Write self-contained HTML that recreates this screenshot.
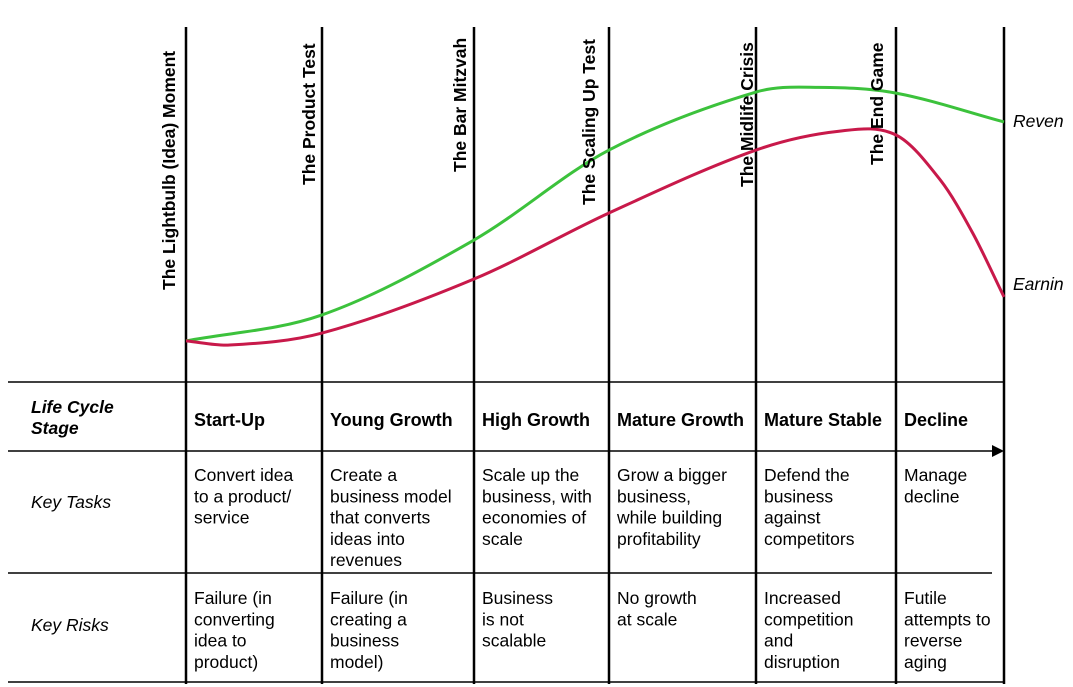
<!DOCTYPE html>
<html><head><meta charset="utf-8"><style>
html,body{margin:0;padding:0;background:#fff;}
svg{display:block;font-family:"Liberation Sans",sans-serif;}
.v{font-weight:bold;font-size:17.5px;}
.h{font-weight:bold;font-size:18px;}
.c{font-size:17.5px;}
.r{font-style:italic;font-size:17.5px;}
</style></head><body>
<svg id="chart" width="1073" height="687" viewBox="0 0 1073 687">
<g id="grid"></g>
<g id="curves"></g>
<g id="labels"></g>
<polygon points="992,445 1004,451 992,457" fill="#000"/>
</svg>
<script>
const milestones = ["The Lightbulb (Idea) Moment","The Product Test","The Bar Mitzvah","The Scaling Up Test","The Midlife Crisis","The End Game"];
const stages = ["Start-Up","Young Growth","High Growth","Mature Growth","Mature Stable","Decline"];
const revenueT = [0,1,2,3,4,4.45,5,6];
const revenueV = [3.5,13.5,42.3,76.9,99.2,101,98.8,87.7];
const earningsT = [0,0.32,1,2,3,4,4.6,5,5.41,5.71,6];
const earningsV = [3.5,1.9,6.5,27.3,52.7,76.9,84.2,82.7,65.4,45,20.4];
const tasks = [["Convert idea","to a product/","service"],["Create a","business model","that converts","ideas into","revenues"],["Scale up the","business, with","economies of","scale"],["Grow a bigger","business,","while building","profitability"],["Defend the","business","against","competitors"],["Manage","decline"]];
const risks = [["Failure (in","converting","idea to","product)"],["Failure (in","creating a","business","model)"],["Business","is not","scalable"],["No growth","at scale"],["Increased","competition","and","disruption"],["Futile","attempts to","reverse","aging"]];

const NS="http://www.w3.org/2000/svg";
const bx=[186,322,474,609,756,896,1004];
function xs(t){const i=Math.min(Math.floor(t),5);return bx[i]+(t-i)*(bx[i+1]-bx[i]);}
function ys(v){return 350-v*2.6;}
function mk(tag,attrs,parent){const e=document.createElementNS(NS,tag);for(const k in attrs)e.setAttribute(k,attrs[k]);parent.appendChild(e);return e;}
const grid=document.getElementById('grid'),curves=document.getElementById('curves'),labels=document.getElementById('labels');
bx.forEach((x,i)=>{const l=mk('line',{x1:x,y1:27,x2:x,y2:684,stroke:'#000','stroke-width':2.5},grid);

});
[[8,382,1004],[8,451,992],[8,573,992],[8,682,1004]].forEach(h=>{const l=mk('line',{x1:h[0],y1:h[1],x2:h[2],y2:h[1],stroke:'#000','stroke-width':1.5},grid);

});
function path(T,V){const p=T.map((t,i)=>[xs(t),ys(V[i])]);const n=p.length;
const m=p.map((q,i)=>{if(i===0)return (p[1][1]-p[0][1])/(p[1][0]-p[0][0]);if(i===n-1)return (p[n-1][1]-p[n-2][1])/(p[n-1][0]-p[n-2][0]);return (p[i+1][1]-p[i-1][1])/(p[i+1][0]-p[i-1][0]);});
let d='M'+p[0][0]+','+p[0][1];
for(let i=0;i<n-1;i++){const dx=(p[i+1][0]-p[i][0])/3;
d+=' C'+(p[i][0]+dx)+','+(p[i][1]+m[i]*dx)+' '+(p[i+1][0]-dx)+','+(p[i+1][1]-m[i+1]*dx)+' '+p[i+1][0]+','+p[i+1][1];}return d;}
const rev=mk('path',{d:path(revenueT,revenueV),fill:'none',stroke:'#3cc23c','stroke-width':3},curves);


const ear=mk('path',{d:path(earningsT,earningsV),fill:'none',stroke:'#c8194a','stroke-width':3},curves);


const mpos=[[175,290],[315,185],[466,172],[595,205],[753,187],[883,165]];
milestones.forEach((m,i)=>{const t=mk('text',{class:'v',transform:`translate(${mpos[i][0]},${mpos[i][1]}) rotate(-90)`},labels);t.textContent=m;

});
function txt(s,x,y,cls,name){const t=mk('text',{x:x,y:y,class:cls},labels);t.textContent=s;

return t;}
txt('Reven',1013,127,'r','revenue-label');
txt('Earnin',1013,290,'r','earnings-label');
txt('Life Cycle',31,413,'h r','row-header-stage').setAttribute('font-weight','bold');
txt('Stage',31,434,'h r','row-header-stage').setAttribute('font-weight','bold');
txt('Key Tasks',31,508,'r','row-header-tasks');
txt('Key Risks',31,631,'r','row-header-risks');
stages.forEach((s,i)=>{txt(s,bx[i]+8,426,'h','stage-name');
tasks[i].forEach((l,j)=>txt(l,bx[i]+8,481+j*21.3,'c','key-task'));
risks[i].forEach((l,j)=>txt(l,bx[i]+8,604+j*21.3,'c','key-risk'));});
</script>
</body></html>
